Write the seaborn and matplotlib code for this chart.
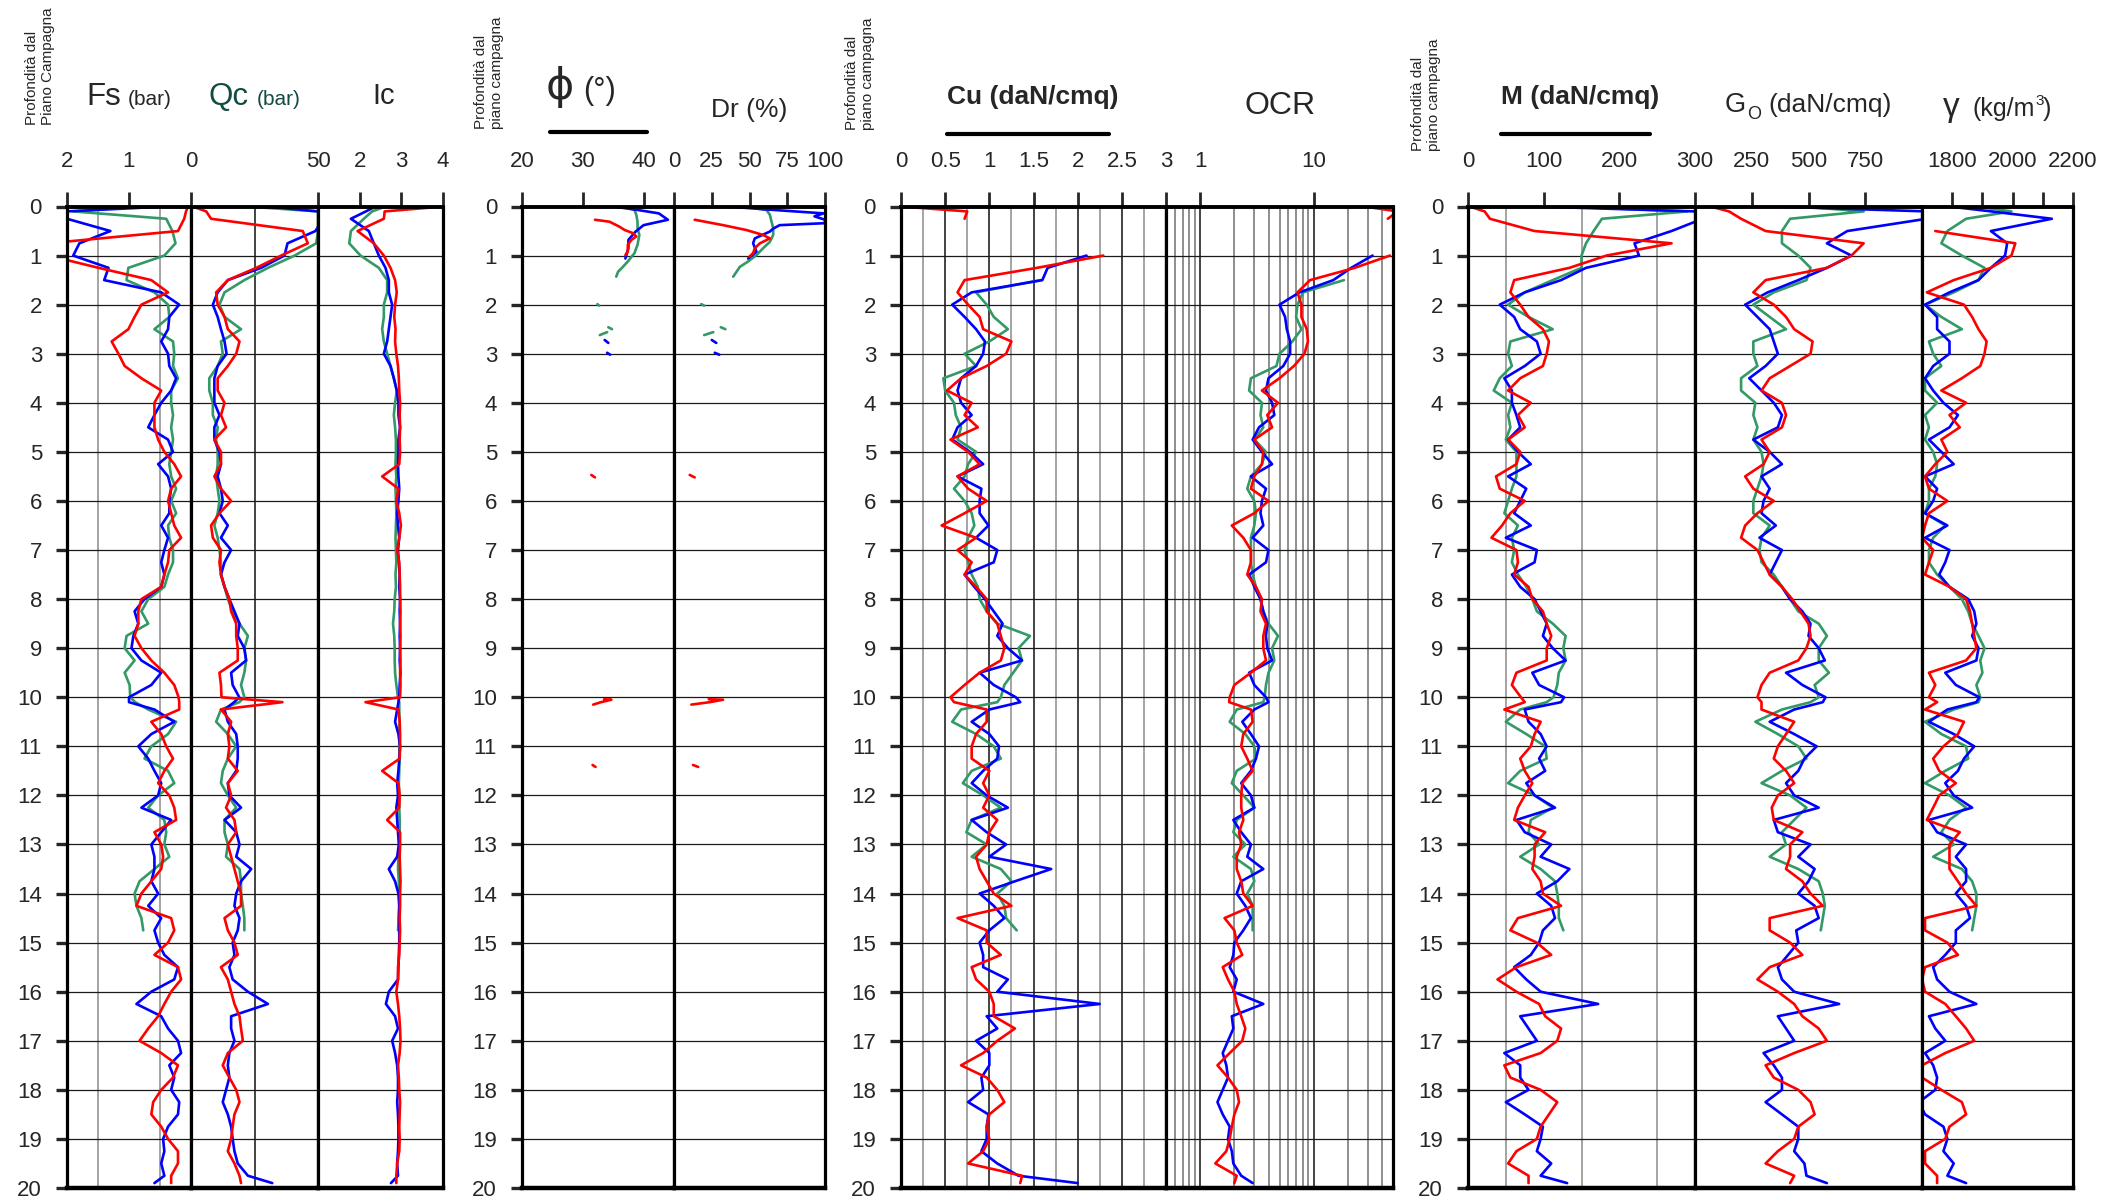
import numpy as np
import pandas as pd
import matplotlib
matplotlib.use("Agg")
import matplotlib.pyplot as plt
import seaborn as sns
from matplotlib.lines import Line2D
from matplotlib.ticker import FixedLocator, FixedFormatter, NullFormatter

nan = np.nan

# ---------------- depth (m) ----------------
DEPTH = [0, 0.1, 0.25, 0.5, 0.75,
         1, 1.25, 1.5, 1.75, 2, 2.25, 2.5, 2.75, 3, 3.25, 3.5, 3.75,
         4, 4.25, 4.5, 4.75, 5, 5.25, 5.5, 5.75, 6, 6.25, 6.5, 6.75,
         7, 7.25, 7.5, 7.75, 8, 8.25, 8.5, 8.75, 9, 9.25, 9.5, 9.75,
         10, 10.1, 10.25, 10.5, 10.75,
         11, 11.25, 11.5, 11.75, 12, 12.25, 12.5, 12.75, 13, 13.25, 13.5, 13.75,
         14, 14.25, 14.5, 14.75, 15, 15.25, 15.5, 15.75, 16, 16.25, 16.5, 16.75,
         17, 17.25, 17.5, 17.75, 18, 18.25, 18.5, 18.75, 19, 19.25, 19.5, 19.75,
         19.9]

# ---------------- Fs (bar) ----------------
FS_BLUE = [0.4, 2.0, 2.0, 1.3, 1.8,
           1.9, 1.33, 1.4, 0.48, 0.19, 0.35, 0.37, 0.48, 0.37, 0.35, 0.24, 0.32,
           0.48, 0.59, 0.69, 0.37, 0.29, 0.53, 0.37, 0.32, 0.35, 0.35, 0.48, 0.37,
           0.43, 0.48, 0.43, 0.48, 0.75, 0.91, 0.85, 0.93, 0.96, 0.8, 0.48, 0.64,
           1.0, 1.0, 0.59, 0.27, 0.64,
           0.85, 0.69, 0.59, 0.48, 0.53, 0.8, 0.32, 0.48, 0.64, 0.59, 0.59, 0.64,
           0.53, 0.69, 0.48, 0.59, 0.53, 0.43, 0.21, 0.27, 0.64, 0.88, 0.48, 0.37,
           0.21, 0.16, 0.35, 0.27, 0.32, 0.19, 0.21, 0.37, 0.45, 0.43, 0.48, 0.43,
           0.59]
FS_GREEN = [0.85, 1.9, 0.4, 0.3, 0.25,
            0.43, 1.01, 1.04, 0.59, 0.37, 0.35, 0.59, 0.29, 0.27, 0.29, 0.21, 0.32,
            0.32, 0.29, 0.32, 0.29, 0.32, 0.35, 0.32, 0.24, 0.32, 0.24, 0.37, 0.35,
            0.29, 0.29, 0.37, 0.43, 0.69, 0.8, 0.69, 1.04, 1.07, 0.91, 1.07, 0.99,
            0.98, 0.9, 0.69, 0.24, 0.37,
            0.64, 0.75, 0.37, 0.27, 0.53, 0.69, 0.43, 0.4, 0.43, 0.35, 0.59, 0.83,
            0.91, 0.88, 0.8, 0.77] + [nan] * 21
FS_RED = [0.05, 0.08, 0.11, 0.21, 2.3,
          2.3, 1.49, 0.64, 0.37, 0.8, 0.91, 1.01, 1.28, 1.17, 1.07, 0.8, 0.48,
          0.59, 0.59, 0.59, 0.53, 0.43, 0.27, 0.16, 0.32, 0.37, 0.32, 0.27, 0.16,
          0.35, 0.37, 0.43, 0.48, 0.8, 0.85, 0.85, 0.91, 0.8, 0.64, 0.43, 0.27,
          0.2, 0.19, 0.19, 0.64, 0.48,
          0.4, 0.29, 0.43, 0.53, 0.35, 0.27, 0.24, 0.59, 0.48, 0.45, 0.48, 0.64,
          0.8, 0.88, 0.32, 0.27, 0.37, 0.59, 0.21, 0.16, 0.32, 0.43, 0.53, 0.69,
          0.83, 0.48, 0.21, 0.29, 0.48, 0.61, 0.64, 0.48, 0.37, 0.21, 0.21, 0.32,
          0.32]

# ---------------- Qc (bar) ----------------
QC_BLUE = [30, 50, 52, 49, 38,
           36.8, 27.6, 14.5, 10.5, 8.6, 10.5, 11.8, 13.2, 14, 10.5, 9.2, 9.2,
           9.2, 11.2, 9.2, 9.2, 11.2, 11.8, 10.5, 11.8, 12.5, 11.2, 14.5, 11.8,
           15.8, 13.2, 11.8, 13.2, 15.1, 17.1, 19.1, 18.4, 21, 21.7, 15.8, 16.4,
           19, 17, 13.2, 14.5, 17.8,
           18.4, 18.4, 17.8, 14.5, 15.1, 19.7, 13.2, 17.8, 19.1, 17.8, 23.7, 19.7,
           17.8, 17.1, 19.1, 18.4, 16.4, 17.1, 15.1, 16.4, 22.4, 30.3, 15.8, 15.8,
           17.1, 15.1, 14.5, 15.1, 13.8, 12.5, 14.5, 15.8, 16.4, 17.1, 18.4, 22.4,
           32]
QC_GREEN = [22, 50, 50, 50, 49.3,
            40.8, 30.3, 21, 13.2, 11.2, 13.2, 19.7, 11.8, 12.5, 10.5, 7.2, 7.2,
            8.6, 8.6, 10.5, 9.9, 10.5, 10.5, 9.9, 10.5, 11.2, 10.5, 9.2, 10.5,
            11.2, 11.8, 11.8, 13.2, 14.5, 16.4, 19.1, 22.4, 21, 21.7, 21, 19.7,
            21, 19, 11.8, 9.9, 14.5,
            17.8, 14.5, 12.5, 11.8, 14.5, 17.8, 13.2, 13.2, 14.5, 13.8, 19.1, 19.7,
            19.7, 20.4, 21, 21] + [nan] * 21
QC_RED = [0.7, 6, 7.9, 44, 46,
          35.5, 25.7, 14.5, 9.9, 10.5, 13.2, 14.5, 19.1, 17.8, 14.5, 10.5, 10.5,
          13.2, 11.8, 13.8, 9.2, 11.8, 11.8, 9.2, 11.8, 15.8, 11.2, 7.9, 8.6,
          11.8, 11.2, 11.8, 13.2, 15.1, 15.8, 17.8, 17.8, 18.4, 18.4, 11.2, 11.8,
          12, 36, 11.8, 15.8, 14.5,
          15.1, 14.5, 18.4, 14.5, 15.8, 13.8, 17.1, 17.8, 14.5, 15.8, 17.1, 18.4,
          19.7, 19.7, 13.2, 14.5, 17.1, 18.4, 11.8, 14.5, 15.8, 17.1, 19.1, 19.7,
          20.4, 14.5, 12.5, 15.1, 17.8, 19.1, 17.1, 16.4, 15.8, 14.5, 17.1, 19.1,
          19.7]

# ---------------- Ic ----------------
IC_BLUE = [2.38, 2.15, 1.79, 2.22, 2.34,
           2.46, 2.62, 2.7, 2.7, 2.78, 2.74, 2.7, 2.66, 2.58, 2.74, 2.82, 2.89,
           2.93, 2.93, 2.97, 2.93, 2.93, 2.92, 2.93, 2.95, 2.93, 2.9, 2.92, 2.95,
           2.92, 2.94, 2.96, 2.95, 2.97, 2.96, 2.97, 2.96, 2.97, 2.96, 2.98, 2.96,
           2.95, 2.93, 2.9, 2.85, 2.93,
           2.97, 2.95, 2.93, 2.9, 2.92, 2.88, 2.9, 2.92, 2.94, 2.9, 2.7, 2.85,
           2.93, 2.95, 2.94, 2.95, 2.95, 2.94, 2.93, 2.92, 2.7, 2.63, 2.85, 2.92,
           2.78, 2.85, 2.9, 2.92, 2.92, 2.9, 2.92, 2.93, 2.93, 2.92, 2.9, 2.92,
           2.75]
IC_GREEN = [2.62, 2.3, 2.1, 1.79, 1.75,
            2.02, 2.46, 2.66, 2.66, 2.58, 2.58, 2.54, 2.58, 2.66, 2.74, 2.82, 2.89,
            2.85, 2.82, 2.85, 2.87, 2.87, 2.86, 2.88, 2.86, 2.87, 2.88, 2.87, 2.86,
            2.87, 2.88, 2.86, 2.87, 2.84, 2.83, 2.8, 2.83, 2.84, 2.84, 2.85, 2.88,
            2.92, 2.95, 2.95, 2.96, 2.95,
            2.95, 2.96, 2.95, 2.94, 2.95, 2.95, 2.96, 2.96, 2.95, 2.93, 2.92, 2.94,
            2.95, 2.95, 2.94, 2.92] + [nan] * 21
IC_RED = [4.0, 2.6, 2.58, 1.95, 2.34,
          2.58, 2.74, 2.85, 2.89, 2.85, 2.83, 2.86, 2.85, 2.88, 2.92, 2.94, 2.95,
          2.97, 2.96, 2.97, 2.96, 2.97, 2.95, 2.54, 2.93, 2.88, 2.95, 2.99, 2.95,
          2.9, 2.95, 2.96, 2.97, 2.97, 2.98, 2.97, 2.98, 2.97, 2.98, 2.97, 2.98,
          2.97, 2.14, 2.93, 2.96, 2.97,
          2.97, 2.96, 2.54, 2.93, 2.96, 2.95, 2.66, 2.97, 2.97, 2.96, 2.97, 2.98,
          2.97, 2.97, 2.96, 2.97, 2.96, 2.95, 2.92, 2.92, 2.88, 2.92, 2.95, 2.97,
          2.98, 2.96, 2.92, 2.94, 2.95, 2.97, 2.96, 2.95, 2.96, 2.95, 2.9, 2.88,
          2.88]

# ---------------- phi (deg) and Dr (%) : sparse readings ----------------
PHI_BLUE_D = [0, 0.07, 0.14, 0.27, 0.38, 0.51, 0.68, 0.85, 1.06, nan, 2.72, 2.78, nan, 2.98, 3.02]
PHI_BLUE = [35, 39, 42.5, 44, 40, 38.7, 37.5, 37.5, 37.0, nan, 33.6, 34.2, nan, 34.0, 34.5]
PHI_GREEN_D = [0, 0.07, 0.17, 0.31, 0.44, 0.58, 0.78, 0.95, 1.12, 1.23, 1.33, 1.43, nan,
               1.99, 2.02, nan, 2.46, 2.5, nan, 2.56, 2.62]
PHI_GREEN = [36.6, 38.5, 38.8, 39, 39, 39.3, 39, 38.5, 37.4, 36.6, 35.8, 35.5, nan,
             32.4, 32.7, nan, 34.2, 34.8, nan, 34.0, 32.8]
PHI_RED_D = [0.27, 0.31, 0.41, 0.48, 0.54, 0.61, 0.68, 0.78, 0.92, 0.99, nan, 5.47, 5.52, nan,
             10.04, 10.05, 10.1, 10.15, nan, 11.38, 11.42]
PHI_RED = [32, 34.4, 36, 36.9, 38.2, 38.8, 38, 37.4, 37.4, 37, nan, 31.4, 32.0, nan,
           33.5, 34.7, 33.0, 31.7, nan, 31.6, 32.1]
DR_BLUE_D = [0, 0.07, 0.14, 0.2, 0.27, 0.34, 0.38, 0.45, 0.51, 0.65, 0.75, 0.92, 1.06, nan,
             2.72, 2.78, nan, 2.98, 3.02]
DR_BLUE = [35, 66, 99, 93, 100, 100, 70, 65.7, 63.5, 53.5, 52.4, 54.6, 49.1, nan,
           25, 28, nan, 27, 30]
DR_GREEN_D = [0, 0.07, 0.17, 0.31, 0.44, 0.58, 0.72, 0.85, 0.99, 1.12, 1.23, 1.33, 1.43, nan,
              1.99, 2.02, nan, 2.46, 2.5, nan, 2.56, 2.62]
DR_GREEN = [45.8, 61.3, 63.5, 64.6, 65.7, 65.7, 63.5, 59, 54.6, 49.1, 43.6, 41.4, 39.2, nan,
            18, 20, nan, 31, 34, nan, 26, 20]
DR_RED_D = [0.27, 0.38, 0.48, 0.58, 0.65, 0.75, 0.85, 0.95, 1.02, nan, 5.47, 5.52, nan,
            10.04, 10.05, 10.1, 10.15, nan, 11.38, 11.42]
DR_RED = [13.7, 32.5, 48, 59, 63.5, 56.9, 53.5, 52.4, 50, nan, 10.4, 13.7, nan,
          23, 32.5, 23.7, 11.5, nan, 12.6, 16]

# ---------------- Cu (daN/cmq) ----------------
CU_BLUE = [nan] * 5 + [
    2.1, 1.66, 1.6, 0.8, 0.58, 0.72, 0.85, 0.95, 0.93, 0.85, 0.68, 0.64,
    0.68, 0.8, 0.64, 0.58, 0.78, 0.93, 0.64, 0.91, 0.89, 0.89, 0.99, 0.85,
    1.09, 1.05, 0.72, 0.83, 0.95, 1.05, 1.15, 1.09, 1.21, 1.37, 0.89, 1.05,
    1.3, 1.35, 1.0, 0.8, 1.0,
    1.11, 1.09, 0.93, 0.8, 0.97, 1.21, 0.8, 0.97, 1.19, 1.0, 1.7, 1.29,
    0.89, 1.05, 1.17, 1.0, 0.89, 0.93, 0.93, 1.21, 1.09, 2.25, 0.97, 1.09,
    0.85, 1.0, 1.0, 0.91, 0.93, 0.76, 0.99, 0.97, 0.97, 0.91, 1.09, 1.33,
    2.0]
CU_GREEN = [nan] * 7 + [
    1.58, 0.85, 0.97, 1.05, 1.21, 1.0, 0.72, 0.85, 0.48, 0.5,
    0.6, 0.62, 0.68, 0.64, 0.85, 0.76, 0.72, 0.6, 0.72, 0.8, 0.83, 0.76,
    0.72, 0.76, 0.8, 0.87, 0.89, 0.97, 1.09, 1.46, 1.33, 1.37, 1.27, 1.17,
    1.13, 1.09, 0.68, 0.58, 0.85,
    1.05, 1.13, 0.8, 0.7, 0.93, 1.13, 0.8, 0.74, 0.97, 0.8, 1.13, 1.25,
    1.09, 1.17, 1.19, 1.31] + [nan] * 21
CU_RED = [0.0, 0.75, 0.72, nan, nan,
          2.29, 1.54, 0.72, 0.64, 0.76, 0.89, 0.93, 1.25, 1.19, 0.97, 0.68, 0.52,
          0.8, 0.72, 0.87, 0.56, 0.76, 0.89, 0.64, 0.76, 0.97, 0.72, 0.46, 0.85,
          0.64, 0.8, 0.72, 0.85, 0.97, 0.97, 1.09, 1.13, 1.17, 1.13, 0.89, 0.72,
          0.56, 0.6, 0.97, 0.97, 0.85,
          0.8, 0.8, 1.0, 0.93, 1.0, 0.93, 1.09, 1.0, 0.97, 0.85, 0.89, 0.97,
          1.05, 1.25, 0.64, 0.97, 0.97, 1.13, 0.8, 0.85, 1.0, 1.05, 1.05, 1.29,
          1.09, 0.93, 0.68, 0.97, 1.09, 1.17, 1.0, 0.97, 1.0, 0.93, 0.76, 1.37,
          1.35]

# ---------------- OCR ----------------
OCR_BLUE = [nan] * 5 + [
    33, 21.4, 14.9, 7.5, 5.0, 5.6, 5.8, 6.2, 6.2, 5.4, 4.0, 3.8,
    4.3, 4.5, 3.3, 2.9, 3.5, 4.3, 2.8, 3.8, 3.5, 3.4, 3.6, 2.9,
    4.0, 3.8, 2.7, 3.0, 3.4, 3.6, 3.9, 3.8, 3.9, 4.3, 2.7, 3.0,
    3.8, 4.0, 3.0, 2.35, 2.8,
    3.3, 3.1, 2.8, 2.3, 2.8, 3.0, 1.96, 2.3, 2.8, 2.6, 3.6, 2.3,
    2.1, 2.5, 2.8, 2.4, 2.0, 1.96, 1.82, 2.1, 1.96, 3.6, 1.9, 1.96,
    1.76, 1.58, 1.7, 1.76, 1.58, 1.42, 1.58, 1.82, 1.76, 1.9, 1.96, 2.3,
    2.9]
OCR_GREEN = [nan] * 7 + [
    18.5, 8.05, 7.2, 7.0, 7.8, 6.5, 5.0, 4.7, 2.8, 2.7,
    3.5, 3.4, 3.6, 3.0, 3.8, 3.5, 2.8, 2.6, 3.0, 3.1, 3.0, 2.8,
    2.8, 2.8, 2.9, 3.1, 3.4, 3.6, 4.0, 4.85, 4.3, 4.5, 4.0, 3.8,
    3.7, 3.6, 2.1, 1.82, 2.5,
    3.0, 3.1, 2.1, 1.9, 2.4, 3.0, 2.1, 1.96, 2.5, 1.96, 2.8, 3.0,
    2.6, 2.9, 2.9, 2.9] + [nan] * 21
OCR_RED = [28, 55, 45, nan, nan,
           47, 23, 9.3, 7.2, 7.8, 7.8, 8.7, 8.9, 8.3, 6.7, 5.0, 3.5,
           4.85, 3.9, 4.3, 3.0, 3.6, 3.5, 3.0, 2.8, 4.0, 3.0, 1.9, 2.4,
           2.8, 2.8, 2.6, 3.1, 3.5, 3.4, 3.8, 3.6, 3.6, 3.8, 2.8, 2.0,
           1.82, 1.8, 2.8, 2.9, 2.4,
           2.3, 2.6, 2.9, 2.35, 2.3, 2.3, 2.4, 2.2, 2.3, 2.1, 2.1, 2.3,
           2.4, 2.9, 1.64, 2.0, 2.1, 2.35, 1.58, 1.76, 2.0, 2.1, 2.3, 2.5,
           2.35, 1.82, 1.42, 1.76, 2.1, 2.2, 2.0, 1.9, 1.82, 1.7, 1.36, 2.1,
           2.0]

# ---------------- M (daN/cmq) ----------------
M_BLUE = [90, 300, 310, 269, 220,
          226, 156, 123, 75, 42, 61, 69, 91, 96, 75, 48, 58,
          58, 64, 69, 53, 66, 83, 53, 77, 69, 61, 83, 50,
          91, 88, 58, 69, 88, 96, 104, 99, 112, 129, 85, 94,
          127, 123, 75, 80, 96,
          104, 94, 102, 77, 88, 115, 64, 75, 110, 96, 134, 118,
          91, 110, 115, 99, 94, 83, 61, 77, 96, 172, 69, 80,
          91, 48, 69, 69, 80, 50, 75, 99, 96, 91, 110, 96,
          131]
M_GREEN = [126, 290, 177, 166, 156,
           150, 150, 112, 75, 53, 80, 112, 56, 53, 58, 42, 34,
           58, 53, 56, 50, 64, 64, 64, 58, 53, 48, 66, 58,
           61, 58, 66, 77, 85, 91, 112, 129, 126, 129, 120, 118,
           113, 104, 69, 50, 77,
           102, 104, 69, 53, 88, 112, 83, 80, 94, 69, 96, 115,
           118, 120, 120, 126] + [nan] * 21
M_RED = [2, 22, 29, 88, 269,
         183, 134, 61, 56, 69, 80, 99, 107, 104, 99, 69, 53,
         83, 66, 75, 53, 69, 64, 37, 42, 75, 56, 45, 31,
         64, 66, 61, 80, 85, 99, 104, 110, 104, 104, 64, 58,
         70, 75, 48, 96, 88,
         83, 69, 75, 85, 75, 66, 61, 102, 88, 88, 85, 96,
         99, 123, 66, 56, 91, 110, 64, 39, 64, 94, 102, 123,
         118, 96, 48, 56, 96, 118, 107, 96, 91, 64, 53, 80,
         80]

# ---------------- Go (daN/cmq) ----------------
GO_BLUE = [347, 1020, 1020, 671, 581,
           689, 581, 455, 320, 221, 275, 329, 347, 365, 311, 239, 293,
           347, 383, 365, 257, 329, 383, 293, 329, 302, 293, 356, 284,
           383, 356, 329, 383, 419, 473, 509, 500, 545, 572, 401, 473,
           575, 563, 437, 329, 437,
           536, 482, 455, 401, 437, 545, 347, 365, 509, 455, 527, 500,
           455, 527, 545, 446, 455, 410, 365, 383, 437, 635, 365, 401,
           437, 302, 347, 383, 383, 311, 383, 455, 455, 437, 482, 491,
           581]
GO_GREEN = [464, 743, 419, 383, 383,
            455, 509, 491, 347, 257, 329, 401, 257, 257, 275, 203, 203,
            266, 257, 275, 257, 293, 302, 293, 275, 257, 257, 329, 293,
            284, 293, 347, 383, 419, 455, 545, 581, 545, 545, 590, 527,
            545, 509, 383, 266, 365,
            455, 491, 383, 293, 419, 491, 437, 383, 401, 329, 455, 545,
            563, 572, 563, 554] + [nan] * 21
GO_RED = [68, 150, 203, 311, 743,
          689, 581, 311, 257, 347, 401, 437, 518, 509, 419, 329, 293,
          383, 401, 383, 293, 329, 302, 221, 257, 347, 275, 221, 203,
          275, 302, 329, 383, 428, 464, 500, 509, 491, 455, 329, 293,
          275, 293, 293, 437, 401,
          365, 347, 401, 437, 365, 338, 347, 473, 419, 419, 401, 473,
          509, 563, 329, 329, 419, 473, 329, 275, 365, 437, 473, 545,
          581, 437, 311, 347, 455, 509, 527, 455, 437, 365, 311, 437,
          419]

# ---------------- gamma (kg/m3) ----------------
GAM_BLUE = [1790, 1930, 2130, 1928, 1982,
            1975, 1928, 1887, 1791, 1710, 1750, 1750, 1791, 1791, 1737, 1710, 1737,
            1771, 1819, 1791, 1723, 1764, 1805, 1710, 1750, 1737, 1710, 1784, 1710,
            1791, 1777, 1757, 1791, 1853, 1873, 1880, 1866, 1887, 1880, 1777, 1812,
            1890, 1880, 1784, 1723, 1805,
            1873, 1839, 1819, 1777, 1805, 1866, 1723, 1750, 1846, 1812, 1846, 1846,
            1812, 1846, 1859, 1812, 1812, 1777, 1737, 1750, 1791, 1880, 1723, 1744,
            1777, 1710, 1737, 1750, 1744, 1690, 1710, 1771, 1784, 1771, 1805, 1784,
            1846]
GAM_GREEN = [1880, 1996, 1846, 1784, 1764,
             1832, 1907, 1887, 1805, 1710, 1764, 1832, 1723, 1737, 1764, 1710, 1710,
             1750, 1710, 1723, 1710, 1737, 1750, 1744, 1723, 1723, 1710, 1777, 1737,
             1723, 1723, 1750, 1791, 1832, 1853, 1866, 1887, 1907, 1893, 1900, 1880,
             1893, 1887, 1805, 1710, 1764,
             1846, 1853, 1777, 1710, 1791, 1846, 1791, 1764, 1805, 1737, 1832, 1866,
             1880, 1880, 1873, 1866] + [nan] * 21
GAM_RED = [nan, nan, nan, 1744, 2009,
           1996, 1928, 1805, 1716, 1839, 1866, 1887, 1914, 1907, 1893, 1832, 1764,
           1846, 1791, 1825, 1764, 1784, 1744, 1710, 1723, 1784, 1723, 1710, 1700,
           1737, 1723, 1710, 1791, 1846, 1859, 1866, 1873, 1880, 1846, 1723, 1744,
           1723, 1750, 1710, 1839, 1819,
           1771, 1737, 1757, 1812, 1757, 1737, 1716, 1825, 1791, 1791, 1791, 1819,
           1846, 1880, 1710, 1710, 1784, 1819, 1710, 1700, 1710, 1777, 1812, 1846,
           1873, 1777, 1700, 1700, 1764, 1832, 1846, 1791, 1777, 1710, 1710, 1750,
           1750]

# ---------------- tick labels ----------------
FS_TICKS, FS_LABELS = [2, 1, 0], ["2", "1", "0"]
QC_TICKS, QC_LABELS = [50], ["50"]
IC_TICKS, IC_LABELS = [2, 3, 4], ["2", "3", "4"]
PHI_TICKS, PHI_LABELS = [20, 30, 40], ["20", "30", "40"]
DR_TICKS, DR_LABELS = [0, 25, 50, 75, 100], ["0", "25", "50", "75", "100"]
CU_TICKS, CU_LABELS = [0, 0.5, 1, 1.5, 2, 2.5, 3], ["0", "0.5", "1", "1.5", "2", "2.5", "3"]
OCR_TICKS, OCR_LABELS = [1, 10], ["1", "10"]
M_TICKS, M_LABELS = [0, 100, 200, 300], ["0", "100", "200", "300"]
GO_TICKS, GO_LABELS = [250, 500, 750], ["250", "500", "750"]
GAM_TICKS, GAM_LABELS = [1800, 1900, 2000, 2100, 2200], ["1800", "", "2000", "", "2200"]

# ---------------- drawing ----------------
sns.set_style("white")
plt.rcParams['font.family'] = ['Liberation Sans', 'DejaVu Sans']

W, H = 2121, 1202
fig = plt.figure(figsize=(W / 100, H / 100), dpi=100)
TOP, BOT = 206.5, 1188.0
BLUE, GREEN, RED = '#0000FF', '#339966', '#FF0000'
LW = 1.9


def fx(x):
    return x / W


def fy(y):
    return 1 - y / H


def panel(x0, x1, xlim, ticks, labels, minor, minor_color='#8c8c8c',
          major_grid=None, log=False, first=False):
    ax = fig.add_axes([x0 / W, 1 - BOT / H, (x1 - x0) / W, (BOT - TOP) / H])
    if log:
        ax.set_xscale('log')
    ax.set_xlim(*xlim)
    ax.set_ylim(20, 0)
    ax.xaxis.set_ticks_position('top')
    ax.xaxis.set_major_locator(FixedLocator(ticks))
    ax.xaxis.set_major_formatter(FixedFormatter(labels))
    ax.xaxis.set_minor_locator(FixedLocator(minor))
    ax.xaxis.set_minor_formatter(NullFormatter())
    ax.yaxis.set_major_locator(FixedLocator(list(range(21))))
    ax.yaxis.set_minor_locator(FixedLocator([]))
    ax.tick_params(axis='x', which='major', direction='out', length=11, width=2,
                   labelsize=16, pad=14, top=True, bottom=False,
                   labeltop=True, labelbottom=False)
    ax.tick_params(axis='x', which='minor', length=0, top=False, bottom=False)
    if first:
        ax.tick_params(axis='y', which='major', direction='out', length=8, width=2.4,
                       labelsize=16, pad=10, left=True, labelleft=True)
    else:
        ax.tick_params(axis='y', which='major', length=0, left=False, labelleft=False)
    ax.set_axisbelow(True)
    ax.yaxis.grid(True, which='major', color='#1a1a1a', lw=0.9)
    ax.xaxis.grid(True, which='minor', color=minor_color, lw=1.1)
    if major_grid:
        ax.xaxis.grid(True, which='major', color=major_grid, lw=1.1)
    else:
        ax.xaxis.grid(False, which='major')
    for s in ax.spines.values():
        s.set_linewidth(2.3)
        s.set_color('black')
    ax.spines['bottom'].set_linewidth(3.2)
    ax.spines['top'].set_linewidth(2.8)
    return ax


def draw(ax, depth, values, color):
    d = np.asarray(depth, dtype=float)
    v = np.asarray(values, dtype=float)
    ok = ~(np.isnan(d) | np.isnan(v))
    seg = np.cumsum(~ok)
    df = pd.DataFrame({'depth': d[ok], 'value': v[ok], 'seg': seg[ok]})
    sns.lineplot(data=df, x='value', y='depth', units='seg', estimator=None,
                 sort=False, color=color, lw=LW, ax=ax, legend=False)
    ax.set_xlabel('')
    ax.set_ylabel('')


def trio(ax, depth_list, g, b, r, xlim):
    for dep, vals, col in zip(depth_list, (g, b, r), (GREEN, BLUE, RED)):
        draw(ax, dep, vals, col)
    ax.set_xlim(*xlim)
    ax.set_ylim(20, 0)


# group 1
ax_fs = panel(67, 191, (2, 0), FS_TICKS, FS_LABELS, [0.5, 1, 1.5], first=True)
trio(ax_fs, [DEPTH] * 3, FS_GREEN, FS_BLUE, FS_RED, (2, 0))
ax_qc = panel(191, 318, (0, 50), QC_TICKS, QC_LABELS, [25], minor_color='#111111')
trio(ax_qc, [DEPTH] * 3, QC_GREEN, QC_BLUE, QC_RED, (0, 50))
ax_ic = panel(318, 443, (1, 4), IC_TICKS, IC_LABELS, [2, 3])
trio(ax_ic, [DEPTH] * 3, IC_GREEN, IC_BLUE, IC_RED, (1, 4))

# group 2
ax_phi = panel(522, 674, (20, 45), PHI_TICKS, PHI_LABELS, [30, 40], minor_color='#333333', first=True)
trio(ax_phi, [PHI_GREEN_D, PHI_BLUE_D, PHI_RED_D], PHI_GREEN, PHI_BLUE, PHI_RED, (20, 45))
ax_dr = panel(674, 825, (0, 100), DR_TICKS, DR_LABELS, [25, 50, 75], minor_color='#222222')
trio(ax_dr, [DR_GREEN_D, DR_BLUE_D, DR_RED_D], DR_GREEN, DR_BLUE, DR_RED, (0, 100))

# group 3
ax_cu = panel(901, 1166, (0, 3), CU_TICKS, CU_LABELS,
              [0.25, 0.75, 1.25, 1.75, 2.25, 2.75], major_grid='#111111', first=True)
trio(ax_cu, [DEPTH] * 3, CU_GREEN, CU_BLUE, CU_RED, (0, 3))
ax_ocr = panel(1166, 1393, (0.5, 50), OCR_TICKS, OCR_LABELS,
               [0.6, 0.7, 0.8, 0.9, 2, 3, 4, 5, 6, 7, 8, 9, 20, 30, 40],
               minor_color='#707070', major_grid='#111111', log=True)
trio(ax_ocr, [DEPTH] * 3, OCR_GREEN, OCR_BLUE, OCR_RED, (0.5, 50))

# group 4
ax_m = panel(1468, 1695, (0, 300), M_TICKS, M_LABELS, [50, 100, 150, 200, 250], first=True)
trio(ax_m, [DEPTH] * 3, M_GREEN, M_BLUE, M_RED, (0, 300))
ax_go = panel(1695, 1922, (0, 1000), GO_TICKS, GO_LABELS, [250, 500, 750])
trio(ax_go, [DEPTH] * 3, GO_GREEN, GO_BLUE, GO_RED, (0, 1000))
ax_g = panel(1922, 2073, (1700, 2200), GAM_TICKS, GAM_LABELS, [1800, 1900, 2000, 2100])
trio(ax_g, [DEPTH] * 3, GAM_GREEN, GAM_BLUE, GAM_RED, (1700, 2200))

# ---------------- header texts ----------------
def txt(x, y, s, size, **kw):
    fig.text(fx(x), fy(y), s, fontsize=size, va=kw.pop('va', 'baseline'),
             ha=kw.pop('ha', 'left'), **kw)


def bar(x0, x1, y):
    fig.add_artist(Line2D([fx(x0), fx(x1)], [fy(y), fy(y)], lw=3, color='black',
                          transform=fig.transFigure))


for cx, by, s in [(40, 125, "Profondità dal\nPiano Campagna"),
                  (489, 129, "Profondità dal\npiano campagna"),
                  (860, 130, "Profondità dal\npiano campagna"),
                  (1426, 151, "Profondità dal\npiano campagna")]:
    fig.text(fx(cx), fy(by), s, rotation=90, ha='center', va='bottom',
             fontsize=11, multialignment='left', linespacing=1.1)

TEAL = '#134B45'
txt(86, 105, "Fs", 22.5)
txt(128, 105, "(bar)", 15)
txt(208, 105, "Qc", 22.5, color=TEAL)
txt(257, 105, "(bar)", 15, color=TEAL)
txt(372, 104, "Ic", 21)
txt(546, 99, "ϕ", 31, family=['DejaVu Sans'])
txt(583, 99, "(°)", 22)
bar(550, 647, 132)
txt(711, 117, "Dr (%)", 19)
txt(947, 104, "Cu (daN/cmq)", 19, fontweight='bold')
bar(947, 1109, 134)
txt(1244, 114, "OCR", 23)
txt(1501, 104, "M (daN/cmq)", 19, fontweight='bold')
bar(1501, 1650, 134)
txt(1725, 112, "G", 19.5)
txt(1747, 119, "O", 13)
txt(1768, 112, "(daN/cmq)", 19)
txt(1943, 116, "γ", 24)
txt(1972, 116, "(kg/m", 18)
txt(2035, 105, "3", 11)
txt(2043, 116, ")", 18)

fig.savefig("out.png", dpi=100)
